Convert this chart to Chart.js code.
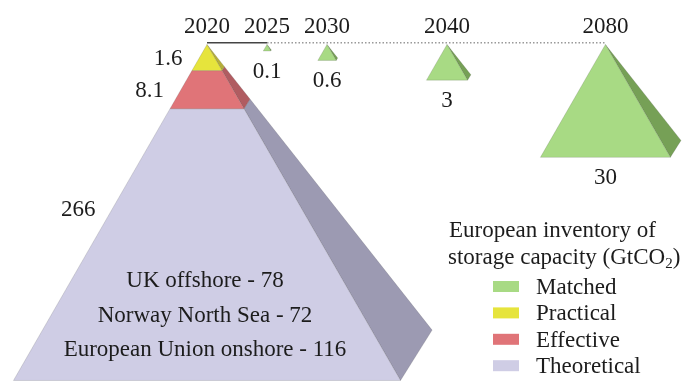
<!DOCTYPE html>
<html>
<head>
<meta charset="utf-8">
<script src="https://cdn.jsdelivr.net/npm/chart.js@4.4.1/dist/chart.umd.min.js"></script>
<style>
  html, body { margin: 0; padding: 0; background: #fff; }
  #wrap { width: 686px; height: 381px; }
</style>
</head>
<body>
<div id="wrap"><canvas id="pyramids" width="686" height="381"></canvas></div>
<script>
// storage capacity, GtCO2
const years = [2020, 2025, 2030, 2040, 2080];
const matched = [null, 0.1, 0.6, 3, 30];
const tiers = ['Practical', 'Effective', 'Theoretical'];
const tierValues = [1.6, 8.1, 266];
const regions = ['UK offshore', 'Norway North Sea', 'European Union onshore'];
const regionValues = [78, 72, 116];
const legendLabels = ['Matched', 'Practical', 'Effective', 'Theoretical'];

const colors = {
    Matched: ['#a8da84', '#76a056'],
    Practical: ['#e6e43c', '#b5ae3a'],
    Effective: ['#e07478', '#b05c61'],
    Theoretical: ['#cfcde5', '#9c9ab2']
};

const FONT = '23px "Liberation Serif"';
const INK = '#1c1c1c';

// layout of the scales: px per year and px per sqrt(GtCO2)
const PX_X = 12;
const PX_Y = 20.6;
const TOP = 44.5;
const AX = PX_Y / PX_X;
// pyramid shape (relative to height)
const HALF = 0.576, BACK_X = 0.67, BACK_Y = 0.85;

// axis is broken after 2040
const xPos = yr => yr <= 2040 ? yr : 2040 + (yr - 2040) * 0.33;

// 2020 layers stacked from the top, the whole pyramid is the theoretical total
let cum = 0;
const bounds = tierValues.map((v, i) => i < tierValues.length - 1 ? Math.sqrt(cum += v) : Math.sqrt(v));

const face = (pts, bg) => ({
    data: pts.map(p => ({x: p[0], y: p[1]})),
    fill: 'shape',
    backgroundColor: bg,
    borderColor: 'rgba(70,70,70,0.25)',
    borderWidth: 0.7,
    pointRadius: 0,
    tension: 0
});

const datasets = [];

const layer = (xc, a, b, name) => {
    const [front, side] = colors[name];
    datasets.push(face([
        [xc - HALF * a * AX, a], [xc + HALF * a * AX, a],
        [xc + HALF * b * AX, b], [xc - HALF * b * AX, b], [xc - HALF * a * AX, a]
    ], front));
    datasets.push(face([
        [xc + HALF * a * AX, a], [xc + HALF * b * AX, b],
        [xc + BACK_X * b * AX, BACK_Y * b], [xc + BACK_X * a * AX, BACK_Y * a], [xc + HALF * a * AX, a]
    ], side));
};

tiers.forEach((t, i) => layer(xPos(years[0]), i ? bounds[i - 1] : 0, bounds[i], t));
matched.forEach((v, i) => {
    if (v != null) layer(xPos(years[i]), 0, Math.sqrt(v), 'Matched');
});

// timeline
datasets.push({
    data: [{x: xPos(years[0]), y: -0.08}, {x: xPos(years[1]), y: -0.08}],
    borderColor: '#444', borderWidth: 1.5, pointRadius: 0, fill: false
});
datasets.push({
    data: [{x: xPos(years[1]), y: -0.08}, {x: xPos(years[years.length - 1]), y: -0.08}],
    borderColor: '#666', borderWidth: 1, borderDash: [1.5, 2], pointRadius: 0, fill: false
});

const textPlugin = {
    id: 'texts',
    afterDatasetsDraw(chart) {
        const {ctx, scales: {x, y}} = chart;
        ctx.save();
        ctx.font = FONT;
        ctx.fillStyle = INK;
        ctx.textBaseline = 'alphabetic';

        // years
        ctx.textAlign = 'center';
        years.forEach(yr => ctx.fillText(String(yr), x.getPixelForValue(xPos(yr)), 33));

        // matched values under the small pyramids
        matched.forEach((v, i) => {
            if (v == null) return;
            const base = y.getPixelForValue(Math.sqrt(v));
            ctx.fillText(String(v), x.getPixelForValue(xPos(years[i])), base + 27);
        });

        // 2020 tier values on the left side
        const apexX = x.getPixelForValue(xPos(years[0]));
        const apexY = y.getPixelForValue(0);
        ctx.textAlign = 'right';
        tierValues.forEach((v, i) => {
            const a = y.getPixelForValue(i ? bounds[i - 1] : 0);
            const b = y.getPixelForValue(bounds[i]);
            const mid = a + Math.min((b - a) / 2, 100);
            const edge = apexX - HALF * (mid - apexY);
            ctx.fillText(String(v), edge - 17, mid + 7);
        });

        // theoretical split by region
        ctx.textAlign = 'center';
        const base = y.getPixelForValue(bounds[bounds.length - 1]);
        regions.forEach((r, i) => {
            ctx.fillText(r + ' - ' + regionValues[i], apexX - 2, base - 93 + i * 34.5);
        });

        // legend
        ctx.textAlign = 'left';
        ctx.fillText('European inventory of', 449, 237);
        const t2 = 'storage capacity (GtCO';
        ctx.fillText(t2, 448, 264);
        let w = ctx.measureText(t2).width;
        ctx.font = '15px "Liberation Serif"';
        ctx.fillText('2', 448 + w, 268);
        w += ctx.measureText('2').width;
        ctx.font = FONT;
        ctx.fillText(')', 448 + w, 264);

        legendLabels.forEach((l, i) => {
            const by = 294 + i * 26.4;
            ctx.fillStyle = colors[l][0];
            ctx.fillRect(493, by - 13, 26, 11);
            ctx.fillStyle = INK;
            ctx.fillText(l, 536, by);
        });
        ctx.restore();
    }
};

new Chart(document.getElementById('pyramids'), {
    type: 'line',
    data: {datasets: datasets},
    options: {
        responsive: false,
        animation: false,
        layout: {padding: 0},
        plugins: {legend: {display: false}, tooltip: {enabled: false}},
        scales: {
            x: {type: 'linear', display: false, min: 2020 - 207 / PX_X, max: 2020 - 207 / PX_X + 686 / PX_X},
            y: {type: 'linear', display: false, reverse: true, min: -TOP / PX_Y, max: (381 - TOP) / PX_Y}
        }
    },
    plugins: [textPlugin]
});
</script>
</body>
</html>
